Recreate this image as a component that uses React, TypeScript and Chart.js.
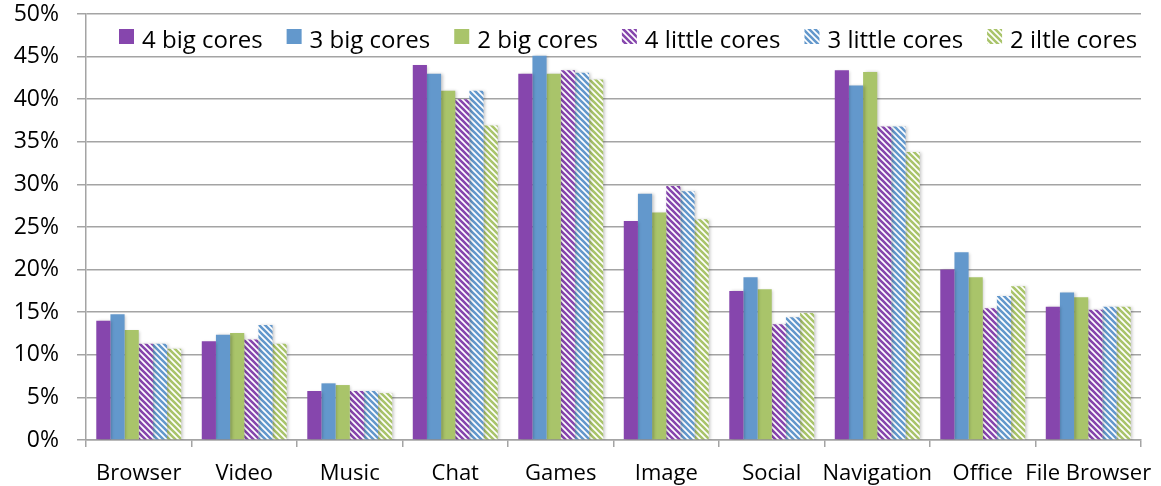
import React, { useEffect, useRef } from "react";
import { Chart, registerables } from "chart.js";

Chart.register(...registerables);

const categories = [
  "Browser",
  "Video",
  "Music",
  "Chat",
  "Games",
  "Image",
  "Social",
  "Navigation",
  "Office",
  "File Browser",
];

const seriesNames = [
  "4 big cores",
  "3 big cores",
  "2 big cores",
  "4 little cores",
  "3 little cores",
  "2 iltle cores",
];

// share of time per app category (%)
const fourBig = [14.0, 11.6, 5.75, 44.0, 43.0, 25.7, 17.5, 43.4, 20.0, 15.65];
const threeBig = [14.75, 12.35, 6.65, 43.0, 45.1, 28.9, 19.1, 41.6, 22.05, 17.3];
const twoBig = [12.9, 12.55, 6.45, 41.0, 43.0, 26.7, 17.7, 43.2, 19.1, 16.75];
const fourLittle = [11.3, 11.8, 5.75, 40.0, 43.4, 29.8, 13.6, 36.8, 15.45, 15.3];
const threeLittle = [11.3, 13.5, 5.75, 41.0, 43.1, 29.2, 14.4, 36.8, 16.9, 15.65];
const twoLittle = [10.7, 11.3, 5.5, 36.9, 42.3, 25.9, 14.9, 33.8, 18.05, 15.65];

const yTicks = [0, 5, 10, 15, 20, 25, 30, 35, 40, 45, 50];

const PURPLE = "#8646ad";
const BLUE = "#6398cc";
const GREEN = "#a9c46a";
const GRID = "#a4a4a4";
const FONT = "'Open Sans', sans-serif";

// white tile with "\" diagonal stripes
function makeHatch(color: string): CanvasPattern | string {
  const size = 6;
  const tile = document.createElement("canvas");
  tile.width = size;
  tile.height = size;
  const c = tile.getContext("2d");
  if (!c) return color;
  c.fillStyle = "#ffffff";
  c.fillRect(0, 0, size, size);
  c.strokeStyle = color;
  c.lineWidth = 2.6;
  c.lineCap = "square";
  c.beginPath();
  c.moveTo(-size, -size);
  c.lineTo(size * 2, size * 2);
  c.moveTo(0, -size);
  c.lineTo(size * 2, size);
  c.moveTo(-size, 0);
  c.lineTo(size, size * 2);
  c.stroke();
  const p = c.createPattern(tile, "repeat");
  return p || color;
}

export default function App() {
  const ref = useRef<HTMLCanvasElement | null>(null);

  useEffect(() => {
    const canvas = ref.current;
    if (!canvas) return;

    const fills = [
      PURPLE,
      BLUE,
      GREEN,
      makeHatch(PURPLE),
      makeHatch(BLUE),
      makeHatch(GREEN),
    ];
    const values = [fourBig, threeBig, twoBig, fourLittle, threeLittle, twoLittle];

    // soft drop shadow under the bars
    const barShadow = {
      id: "barShadow",
      beforeDatasetsDraw(chart: any) {
        const ctx = chart.ctx;
        ctx.save();
        ctx.shadowColor = "rgba(0,0,0,0.22)";
        ctx.shadowBlur = 3;
        ctx.shadowOffsetX = 1.5;
        ctx.shadowOffsetY = 0.5;
      },
      afterDatasetsDraw(chart: any) {
        chart.ctx.restore();
      },
    };

    // single-row legend drawn inside the plot area
    const innerLegend = {
      id: "innerLegend",
      afterDraw(chart: any) {
        const ctx = chart.ctx;
        const area = chart.chartArea;
        ctx.save();
        ctx.font = `24px ${FONT}`;
        ctx.textBaseline = "alphabetic";
        ctx.textAlign = "left";
        let x = area.left + 33;
        const boxTop = area.top + 15;
        const box = 15;
        chart.data.datasets.forEach((ds: any) => {
          ctx.fillStyle = ds.backgroundColor;
          ctx.fillRect(x, boxTop, box, box);
          x += box + 8;
          ctx.fillStyle = "#000000";
          ctx.fillText(ds.label, x, area.top + 34);
          x += ctx.measureText(ds.label).width + 24;
        });
        ctx.restore();
      },
    };

    const chart = new Chart(canvas, {
      type: "bar",
      data: {
        labels: categories,
        datasets: seriesNames.map((name, i) => ({
          label: name,
          data: values[i],
          backgroundColor: fills[i] as any,
          borderWidth: 0,
          categoryPercentage: 0.805,
          barPercentage: 1.0,
        })),
      },
      options: {
        responsive: false,
        animation: false,
        layout: { padding: { left: 0, right: 20, top: 14, bottom: 0 } },
        plugins: {
          legend: { display: false },
          tooltip: { enabled: false },
        },
        scales: {
          x: {
            offset: true,
            grid: {
              display: true,
              drawOnChartArea: false,
              drawTicks: true,
              tickLength: 7,
              color: GRID,
              lineWidth: 1.5,
              offset: true,
            },
            border: { display: true, color: GRID, width: 1.5 },
            ticks: {
              color: "#000000",
              font: { family: FONT, size: 22 },
              padding: 14,
              maxRotation: 0,
              autoSkip: false,
            },
            afterFit(scale: any) {
              scale.height = 46;
              scale.paddingLeft = 0;
              scale.paddingRight = 0;
            },
          },
          y: {
            min: 0,
            max: 50,
            afterBuildTicks(scale: any) {
              scale.ticks = yTicks.map((v) => ({ value: v }));
            },
            grid: {
              color: GRID,
              lineWidth: 1.5,
              drawTicks: true,
              tickLength: 9,
            },
            border: { display: true, color: GRID, width: 1.5 },
            ticks: {
              color: "#000000",
              font: { family: FONT, size: 23 },
              padding: 18,
              callback: (v: any) => `${v}%`,
            },
            afterFit(scale: any) {
              scale.width = 86;
              scale.paddingTop = 0;
              scale.paddingBottom = 0;
            },
          },
        },
      },
      plugins: [barShadow, innerLegend],
    });

    return () => chart.destroy();
  }, []);

  return (
    <div
      style={{
        position: "fixed",
        left: 0,
        top: 0,
        width: 1161,
        height: 486,
        background: "#ffffff",
      }}
    >
      <canvas ref={ref} width={1161} height={486} />
    </div>
  );
}
